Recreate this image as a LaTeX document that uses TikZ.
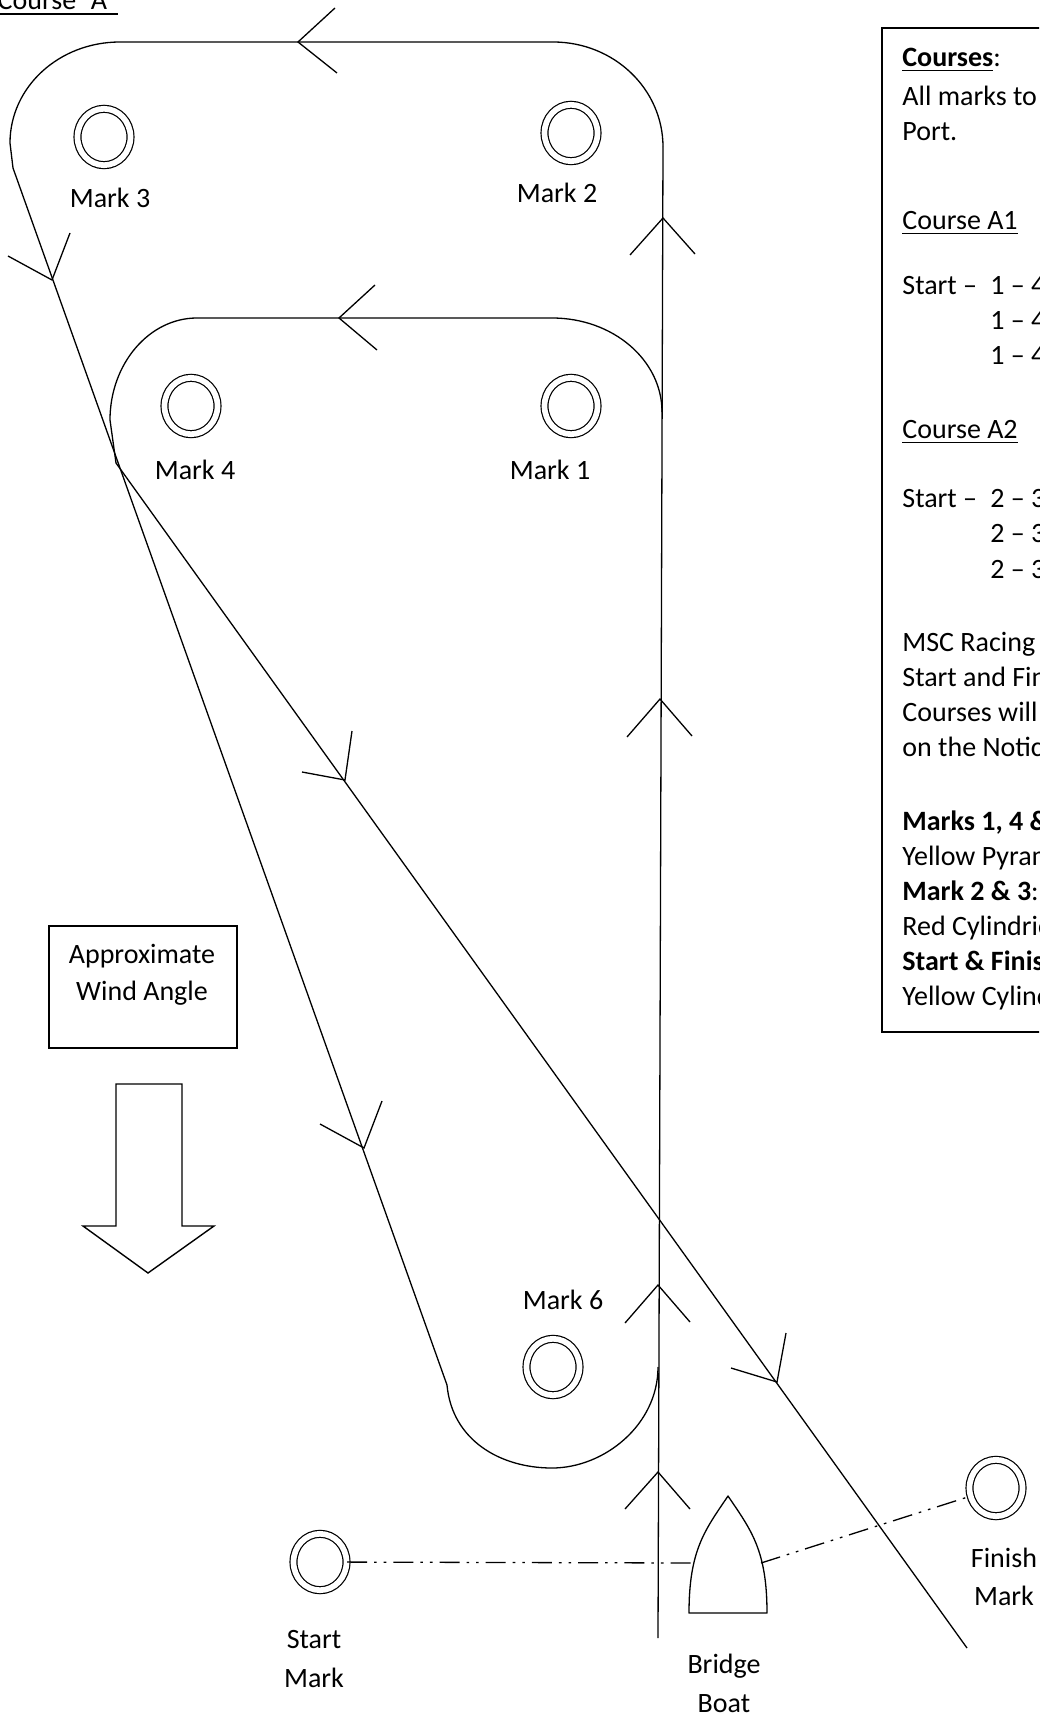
\documentclass[tikz,border=0pt]{standalone}
\usepackage{fontspec}
\setmainfont{Carlito}
\usetikzlibrary{shapes.geometric}
\newcommand\ulin[1]{\setbox0\hbox{#1}\rlap{\rule[-2pt]{\wd0}{0.6pt}}\box0}
\begin{document}
\begin{tikzpicture}[x=0.5pt,y=-0.5pt,
  course/.style={line width=0.65pt, line join=round},
  chev/.style={line width=0.65pt},
  buoy/.style={ellipse, draw, double, double distance=2.85pt, line width=0.6pt,
    minimum width=26.5pt, minimum height=28.2pt, inner sep=0pt},
  lbl/.style={inner sep=0pt, font=\fontsize{14}{17.5}\selectfont},
  txt/.style={lbl, anchor=base west},
  ctr/.style={lbl, anchor=base},
  lineup/.style={line width=0.65pt, dash pattern=on 10pt off 3.5pt on 1.3pt off 3.5pt on 1.3pt off 3.5pt}
]
\clip (0,0) rectangle (1039,1716);

% title
\node[txt, anchor=base east] (title) at (118,10) {Course "A"};
\draw[line width=0.65pt] ([yshift=-2pt]title.base west) -- ([yshift=-2pt]title.base east);

% marks
\node[buoy] (m3) at (104,137) {};
\node[buoy] (m2) at (571,133) {};
\node[buoy] (m1) at (571,406) {};
\node[buoy] (m4) at (191,406) {};
\node[buoy] (m6) at (553,1367) {};
\node[buoy] (sm) at (320,1562) {};
\node[buoy] (fm) at (996,1488) {};

\node[ctr] (l3) at (110,208) {Mark 3};
\node[ctr] (l2) at (557,203) {Mark 2};
\node[ctr] (l4) at (195,480) {Mark 4};
\node[ctr] (l1) at (550,480) {Mark 1};
\node[ctr] (l6) at (563,1309) {Mark 6};
\node[ctr] (ls1) at (314,1648) {Start};
\node[ctr] (ls2) at (314,1687) {Mark};
\node[ctr] (lb1) at (724,1673) {Bridge};
\node[ctr] (lb2) at (724,1712) {Boat};
\node[ctr] (lf1) at (1004,1567) {Finish};
\node[ctr] (lf2) at (1004,1605) {Mark};

% outer course (marks 2 and 3)
\draw[course] (663,147) .. controls (663,89) and (614,42) .. (553,42) -- (120,42)
  .. controls (59,42) and (10,87) .. (10,143) -- (13,168) -- (447,1385)
  .. controls (452,1440) and (500,1468) .. (552,1468)
  .. controls (604,1468) and (658,1425) .. (658,1367);
% inner course (marks 1 and 4)
\draw[course] (662,412) .. controls (662,360) and (613,318) .. (552,318) -- (197,318)
  .. controls (149,318) and (110,364) .. (110,420) -- (116,463) -- (967,1648);
% beat up the middle
\draw[course] (663,147) -- (658,1638);

% chevrons
\draw[chev] (335,8) -- (298,42) -- (337,73);
\draw[chev] (375,285) -- (339,318) -- (377,350);
\draw[chev] (630,255) -- (663,218) -- (695,254);
\draw[chev] (627,737) -- (660,699) -- (692,736);
\draw[chev] (625,1323) -- (658,1285) -- (690,1322);
\draw[chev] (625,1509) -- (658,1472) -- (690,1509);
\draw[chev] (8,256) -- (52,280) -- (70,233);
\draw[chev] (320,1124) -- (364,1148) -- (382,1101);
\draw[chev] (302,772) -- (345,780) -- (352,731);
\draw[chev] (731,1368) -- (777,1382) -- (786,1333);

% bridge boat
\draw[course] (689,1613) .. controls (689,1550) and (705,1530) .. (728,1496)
  .. controls (751,1530) and (767,1550) .. (767,1613) -- cycle;
\coordinate (boatL) at (695,1563);
\coordinate (boatR) at (761,1563);
\draw[lineup] (sm) -- (boatL);
\draw[lineup] (boatR) -- (fm);

% wind
\node[draw, line width=0.75pt, minimum width=94pt, minimum height=61pt, inner sep=0pt] (wbox) at (143,987) {};
\node[ctr] (w1) at (142,963) {Approximate};
\node[ctr] (w2) at (142,1000) {Wind Angle};
\draw[line width=0.7pt, line join=miter] (116,1084) -- (182,1084) -- (182,1226) -- (214,1226)
  -- (148,1273) -- (83,1226) -- (116,1226) -- cycle;

% info box
\draw[line width=1pt] (1100,28) -- (882,28) -- (882,1032) -- (1100,1032);
\node[txt] (t1) at (902,67) {\ulin{\bfseries Courses}:};
\node[txt] (t2) at (902,106) {All marks to};
\node[txt] (t3) at (902,141) {Port.};
\node[txt] (t4) at (902,230) {\ulin{Course A1}};
\node[txt] (t5) at (902,295) {Start –};
\node[txt] (t5b) at (990,295) {1 – 4};
\node[txt] (t6) at (990,330) {1 – 4};
\node[txt] (t7) at (990,365) {1 – 4};
\node[txt] (t8) at (902,439) {\ulin{Course A2}};
\node[txt] (t9) at (902,508) {Start –};
\node[txt] (t9b) at (990,508) {2 – 3};
\node[txt] (t10) at (990,543) {2 – 3};
\node[txt] (t11) at (990,578) {2 – 3};
\node[txt] (t12) at (902,651) {MSC Racing};
\node[txt] (t13) at (902,686) {Start and Fin};
\node[txt] (t14) at (902,721) {Courses will};
\node[txt] (t15) at (902,756) {on the Notic};
\node[txt] (t16) at (902,830) {\bfseries Marks 1, 4 \&};
\node[txt] (t17) at (902,865) {Yellow Pyram};
\node[txt] (t18) at (902,900) {\textbf{Mark 2 \& 3}:};
\node[txt] (t19) at (902,935) {Red Cylindric};
\node[txt] (t20) at (902,970) {\bfseries Start \& Finis};
\node[txt] (t21) at (902,1005) {Yellow Cylind};
\end{tikzpicture}
\end{document}
